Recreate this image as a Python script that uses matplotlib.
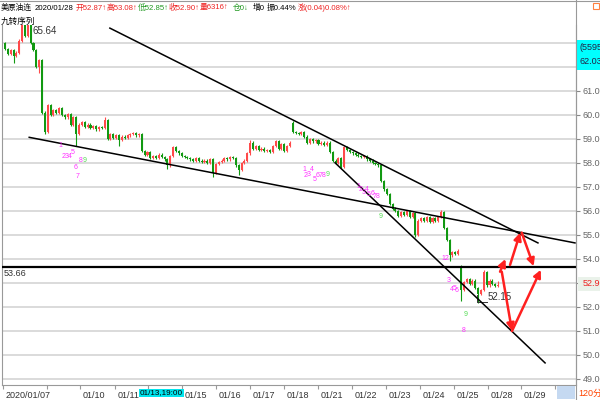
import matplotlib.pyplot as plt
import matplotlib.transforms as mtransforms
from matplotlib.patches import Rectangle
from matplotlib.lines import Line2D

plt.rcParams['font.family'] = ['Liberation Sans', 'Noto Sans CJK SC', 'DejaVu Sans']

# 美原油连 120分钟K线 收盘价 (2020/01/07 ~ 01/28)
closes = [
    62.75, 62.55, 62.7, 62.45, 62.6, 63.1, 64.4, 63.3, 63.9, 63.0,
    62.7, 62.0, 62.3, 60.1, 59.3, 60.4, 60.0, 60.2, 60.1, 60.3,
    60.0, 59.9, 60.05, 59.6, 59.9, 59.2, 59.6, 59.7, 59.5, 59.6,
    59.45, 59.55, 59.4, 59.5, 59.45, 59.8, 59.0, 59.2, 59.05, 59.15,
    58.95, 59.1, 59.05, 59.15, 59.2, 59.25, 59.15, 59.2, 58.5, 58.35,
    58.45, 58.2, 58.3, 58.2, 58.35, 58.25, 58.15, 57.9, 58.3, 58.65,
    58.5, 58.4, 58.3, 58.25, 58.2, 58.15, 58.1, 58.2, 58.1, 58.05,
    58.1, 58.0, 58.15, 57.6, 57.95, 58.05, 58.1, 58.2, 58.15, 58.25,
    58.2, 57.9, 57.7, 58.0, 58.1, 58.4, 58.85, 58.6, 58.7, 58.55,
    58.6, 58.5, 58.55, 58.45, 58.7, 58.9, 58.6, 58.8, 58.5, 58.7,
    58.85, 59.3, 59.25, 59.2, 59.3, 59.1, 58.85, 59.0, 58.9, 58.95,
    58.8, 58.85, 58.75, 58.85, 58.45, 58.1, 58.0, 58.2, 57.85, 58.65,
    58.55, 58.45, 58.4, 58.35, 58.3, 58.25, 58.3, 58.15, 58.1, 58.0,
    57.95, 57.9, 57.25, 56.9, 56.7, 56.3, 56.1, 56.0, 55.8, 55.95,
    55.85, 56.0, 55.75, 55.9, 55.0, 55.6, 55.7, 55.6, 55.75, 55.55,
    55.7, 55.6, 55.75, 55.95, 55.3, 54.8, 54.15, 54.3, 54.2, 54.35,
    52.7, 53.05, 53.15, 52.95, 53.1, 52.8, 52.55, 52.7, 53.45, 52.9,
    53.1, 52.95, 52.87, 52.90,
]
# 跳空开盘 (其余开盘 = 前收)
gap_opens = {0: 63.0, 101: 59.65, 160: 53.7}
# 明显的上下影线
high_marks = {6: 65.64, 35: 59.9, 86: 58.95, 101: 59.75, 119: 58.72,
              153: 56.05, 168: 53.55, 173: 53.08}
low_marks = {3: 62.17, 12: 61.75, 14: 59.2, 25: 58.7, 40: 58.7, 57: 57.75,
             73: 57.4, 82: 57.5, 114: 58.4, 118: 57.8, 144: 54.9, 156: 53.9,
             160: 52.25, 166: 52.15, 173: 52.85}

tick_pos = [-0.7, 14.7, 26.3, 38.6, 50.2, 62.1, 74.0, 86.0, 97.9, 109.8,
            121.8, 133.7, 145.6, 157.5, 169.5, 181.1, 193.0]
tick_labels = ['2020/01/07', '', '01/10', '01/11', '', '01/15', '01/16', '01/17',
               '01/18', '01/21', '01/22', '01/23', '01/24', '01/25', '01/28',
               '01/29', '']
price_ticks = list(range(49, 64))

# 趋势线 (K线序号, 价格)
trend_lines = [
    ((36.8, 63.62), (187.0, 54.67)),
    ((8.5, 59.07), (200.0, 54.67)),
    ((115.8, 58.01), (189.5, 49.67)),
]
hline_price = 53.66
arrows = [
    ((173.7, 53.47), (175.6, 54.0)),
    ((177.2, 53.75), (180.8, 55.1)),
    ((181.3, 55.1), (185.5, 53.7)),
    ((174.3, 53.47), (177.9, 51.0)),
    ((177.9, 51.0), (188.0, 53.55)),
]
# 九转序列 标记 (序号, 价格, 文本, 颜色)
td_marks = [
    (19.6, 58.72, '1', 'm'), (20.5, 58.25, '2', 'm'), (21.6, 58.25, '3', 'm'),
    (22.6, 58.25, '4', 'm'), (23.8, 58.42, '5', 'm'), (24.6, 57.83, '6', 'm'),
    (25.5, 57.42, '7', 'm'), (26.7, 58.1, '8', 'm'), (27.8, 58.12, '9', 'g'),
    (104.9, 57.71, '1', 'm'), (105.6, 57.46, '2', 'm'), (106.7, 57.54, '3', 'm'),
    (107.7, 57.71, '4', 'm'), (108.8, 57.33, '5', 'm'), (109.8, 57.46, '6', 'm'),
    (110.9, 57.46, '7', 'm'), (111.9, 57.46, '8', 'm'), (113.3, 57.54, '9', 'g'),
    (123.9, 57.0, '1', 'm'), (124.9, 56.88, '2', 'm'), (126.0, 56.79, '3', 'm'),
    (127.0, 56.88, '4', 'm'), (127.7, 56.67, '5', 'm'), (128.8, 56.71, '6', 'm'),
    (129.8, 56.62, '7', 'm'), (130.9, 56.62, '8', 'm'), (131.9, 55.79, '9', 'g'),
    (154.4, 54.0, '12', 'm'), (155.8, 53.12, '3', 'm'), (156.8, 52.71, '4', 'm'),
    (157.9, 52.79, '5', 'm'), (158.6, 52.67, '6', 'm'), (161.6, 51.67, '9', 'g'),
    (160.8, 51.0, '8', 'm'),
]

RED = '#ff4a4a'
GREEN = '#119911'

fig = plt.figure(figsize=(6, 4), dpi=100)
ax = fig.add_axes([2 / 600, 15 / 400, 574 / 600, 360 / 400])
ax.set_xlim(-1.05, 200.35)
ax.set_ylim(48.75, 63.75)

for p in price_ticks:
    ax.axhline(p, color='#d4d4d4', lw=1.2, zorder=0)

# K线
opens = []
for i, c in enumerate(closes):
    opens.append(gap_opens.get(i, closes[i - 1] if i > 0 else c))
for i, (o, c) in enumerate(zip(opens, closes)):
    col = RED if c >= o else GREEN
    hi = high_marks.get(i, max(o, c) + 0.05)
    lo = low_marks.get(i, min(o, c) - 0.05)
    ax.vlines(i, lo, hi, color=col, lw=0.8, zorder=2)
    ax.bar(i, max(abs(c - o), 0.03), bottom=min(o, c), width=0.72,
           color=col, lw=0, zorder=3)

for (x0, y0), (x1, y1) in trend_lines:
    ax.plot([x0, x1], [y0, y1], color='black', lw=1.1, zorder=4)
ax.axhline(hline_price, color='black', lw=1.6, zorder=4)
ax.text(-0.6, hline_price - 0.08, f'{hline_price:.2f}', fontsize=6.5,
        color='#333333', va='top', ha='left')

for (x0, y0), (x1, y1) in arrows:
    ax.annotate('', xy=(x1, y1), xytext=(x0, y0), zorder=5,
                arrowprops=dict(arrowstyle='-|>', color='#ff2020', lw=1.8,
                                mutation_scale=11, shrinkA=0, shrinkB=0))

for x, y, t, c in td_marks:
    ax.text(x, y, t, fontsize=5, color='#ff33ff' if c == 'm' else '#55dd55',
            ha='center', va='center', zorder=6)

# 最高/最低价标注
ax.text(9.5, 63.5, '65.64', fontsize=7, color='#333333', va='center')
ax.plot([165.6, 165.6, 169.1], [52.5, 52.21, 52.21], color='#333333', lw=0.7)
ax.text(169.3, 52.42, '52.15', fontsize=7, color='#333333', va='center')

ax.yaxis.tick_right()
ax.set_yticks(price_ticks)
ax.set_yticklabels(['' if p in (53, 62, 63) else f'{p:.2f}' for p in price_ticks])
ax.tick_params(axis='y', length=3, colors='#888888', labelsize=6.5,
               labelcolor='#666666', pad=2)
ax.set_xticks(tick_pos)
ax.set_xticklabels(tick_labels)
ax.tick_params(axis='x', length=3, colors='#999999', labelsize=6.5,
               labelcolor='#333333', pad=1)
offset = mtransforms.ScaledTranslation(2 / 72, 0, fig.dpi_scale_trans)
for lab in ax.get_xticklabels():
    lab.set_horizontalalignment('left')
    lab.set_transform(lab.get_transform() + offset)

ax.spines['top'].set_visible(False)
for s in ['left', 'bottom', 'right']:
    ax.spines[s].set_color('#999999')


def fy(y):
    return 1 - y / 400


# 边框
fig.add_artist(Line2D([576 / 600, 576 / 600], [0, 1], color='#999999', lw=0.8))
fig.add_artist(Line2D([0, 1], [fy(0.5), fy(0.5)], color='#999999', lw=0.8))
fig.add_artist(Rectangle((593 / 600, fy(9)), 6 / 600, 6 / 400, fill=False,
                         edgecolor='#ff8040', lw=0.8))

# 标题栏: 依次排列 (文本, 颜色, 前间距)
header = [
    ('美原油连', 'black', 1), ('2020/01/28', 'black', 3),
    ('开52.87↑', '#ee2222', 2), ('高53.08↑', '#ee2222', 0),
    ('低52.85↑', '#229922', 0), ('收52.90↑', '#ee2222', 0),
    ('量6316↑', '#ee2222', 0), ('仓0↓', '#229922', 4),
    ('增0', 'black', 4), ('振0.44%', 'black', 2),
    ('涨(0.04)0.08%↑', '#ee2222', 2),
]
renderer = fig.canvas.get_renderer()
cur = 0
for t, c, gap in header:
    txt = fig.text((cur + gap) / 600, fy(8), t, fontsize=5.6, color=c,
                   va='center', ha='left')
    cur = txt.get_window_extent(renderer).x1
fig.text(1 / 600, fy(21), '九转序列', fontsize=6.2, color='black', va='center')

# 右侧标签
fig.add_artist(Rectangle((577 / 600, fy(70)), 23 / 600, 30 / 400,
                         facecolor='#00ffff', edgecolor='none'))
fig.text(580 / 600, fy(48), '(5595', fontsize=6.5, color='#222244', va='center')
fig.text(580 / 600, fy(62), '62.03', fontsize=6.5, color='#222244', va='center')
fig.add_artist(Rectangle((578 / 600, fy(291)), 22 / 600, 14 / 400,
                         facecolor='#eaf2ea', edgecolor='none'))
fig.text(583 / 600, fy(284), '52.90', fontsize=6.5, color='#ee2222', va='center')

# 底部标签
fig.text(140 / 600, fy(393), '01/13,19:00', fontsize=5.9, color='black',
         va='center', bbox=dict(boxstyle='square,pad=0.12', fc='#00e5ee', ec='none'))
fig.add_artist(Rectangle((557 / 600, fy(399)), 18 / 600, 13 / 400,
                         facecolor='#c5d9f1', edgecolor='none'))
fig.text(578 / 600, fy(393), '120分钟', fontsize=6.5, color='#ff4400', va='center')

plt.savefig('out.png', dpi=100)
